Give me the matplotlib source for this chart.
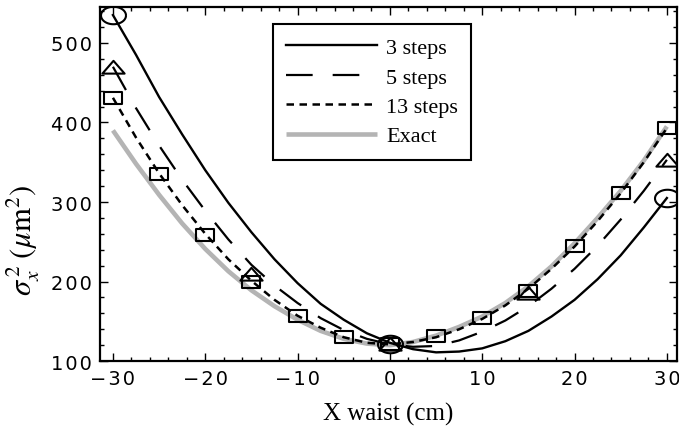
import numpy as np
import matplotlib
matplotlib.use("Agg")
import matplotlib.pyplot as plt
from matplotlib.path import Path
from matplotlib.ticker import MultipleLocator, FuncFormatter

plt.rcParams["mathtext.fontset"] = "stix"

# curve samples, x waist in cm
x_curve = [-30, -27.5, -25, -22.5, -20, -17.5, -15, -12.5, -10, -7.5, -5, -2.5, 0,
           2.5, 5, 7.5, 10, 12.5, 15, 17.5, 20, 22.5, 25, 27.5, 30]
steps3 = [535, 485, 432, 385, 340, 299, 262, 228, 198, 172, 152, 135, 123,
          115, 111, 112, 116, 125, 138, 156, 177, 203, 233, 268, 305]
steps5 = [470, 418, 371, 328, 289, 253, 221, 195, 173, 154, 139, 128, 121,
          118, 119, 126, 137, 151, 169, 191, 216, 245, 278, 314, 353]
steps13 = [431, 381, 336, 296, 260, 228, 201, 177, 157, 142, 130, 123, 121,
           124, 130, 140, 153, 170, 191, 216, 244, 276, 311, 350, 393]
exact = [390, 348, 309, 273, 241, 213, 189, 169, 152, 138, 128, 122, 120,
         124, 132, 143, 156, 173, 194, 219, 248, 280, 314, 352, 395]

# marker points for each step count
x_pts3 = [-30, 0, 30]
y_pts3 = [535, 122, 305]
x_pts5 = [-30, -15, 0, 15, 30]
y_pts5 = [470, 209, 121, 185, 353]
x_pts13 = [-30, -25, -20, -15, -10, -5, 0, 5, 10, 15, 20, 25, 30]
y_pts13 = [431, 335, 259, 200, 157, 130, 121, 131, 154, 188, 245, 311, 393]

labels = ["3 steps", "5 steps", "13 steps", "Exact"]

serif = "Liberation Serif"


def spaced(v, pos):
    # tick digits in the original are spread out
    s = f"{int(round(v))}".replace("-", "\u2212")
    return "\u200a".join(s)


t = np.linspace(0, 2 * np.pi, 60)
ellipse = Path(np.column_stack([np.cos(t), 0.7 * np.sin(t)]))
flat_tri = Path([(-1, -0.55), (1, -0.55), (0, 0.6), (-1, -0.55)], closed=True)
flat_sq = Path([(-1, -0.62), (1, -0.62), (1, 0.62), (-1, 0.62), (-1, -0.62)], closed=True)

fig = plt.figure(figsize=(6.79, 4.27), dpi=100)
ax = fig.add_axes([0.1473, 0.152, 0.8498, 0.829])

ax.plot(x_curve, exact, color="#b4b4b4", lw=3.3, solid_capstyle="butt", label=labels[3], zorder=2)
ax.plot(x_curve, steps3, color="black", lw=1.7, label=labels[0], zorder=3)
ax.plot(x_curve, steps5, color="black", lw=1.6, dashes=(12, 9), label=labels[1], zorder=3)
ax.plot(x_curve, steps13, color="black", lw=1.8, dashes=(3.0, 2.2), label=labels[2], zorder=3)

mk = dict(color="none", markerfacecolor="none", markeredgecolor="black", markeredgewidth=1.5, zorder=4)
ax.plot(x_pts3, y_pts3, marker=ellipse, markersize=18, **mk)
ax.plot(x_pts5, y_pts5, marker=flat_tri, markersize=16, **mk)
ax.plot(x_pts13, y_pts13, marker=flat_sq, markersize=13.5, **mk)

ax.set_xlim(-31.4, 31.1)
ax.set_ylim(100, 545)
ax.xaxis.set_major_locator(MultipleLocator(10))
ax.xaxis.set_minor_locator(MultipleLocator(2))
ax.yaxis.set_major_locator(MultipleLocator(100))
ax.yaxis.set_minor_locator(MultipleLocator(20))
ax.xaxis.set_major_formatter(FuncFormatter(spaced))
ax.yaxis.set_major_formatter(FuncFormatter(spaced))
ax.tick_params(which="both", direction="in", top=True, right=True, width=1.0, labelsize=14)
ax.tick_params(which="major", length=6, pad=6)
ax.tick_params(which="minor", length=3)
for s in ax.spines.values():
    s.set_linewidth(1.6)

ax.set_xlabel("X waist (cm)", family=serif, fontsize=18, labelpad=10)
ax.set_ylabel(r"$\sigma_x^{\,2}\;(\mu\mathrm{m}^2)$", fontsize=22)
ax.yaxis.set_label_coords(-0.1, 0.345)

h, l = ax.get_legend_handles_labels()
order = [1, 2, 3, 0]
leg = fig.legend([h[i] for i in order], [l[i] for i in order], loc="upper left",
                 bbox_to_anchor=(0.402, 0.941), borderaxespad=0,
                 prop={"family": serif, "size": 16},
                 handlelength=4.1, labelspacing=0.4, fancybox=False, framealpha=1,
                 edgecolor="black", borderpad=0.6, handletextpad=0.4)
leg.get_frame().set_linewidth(1.5)

fig.savefig("out.png", dpi=100)
